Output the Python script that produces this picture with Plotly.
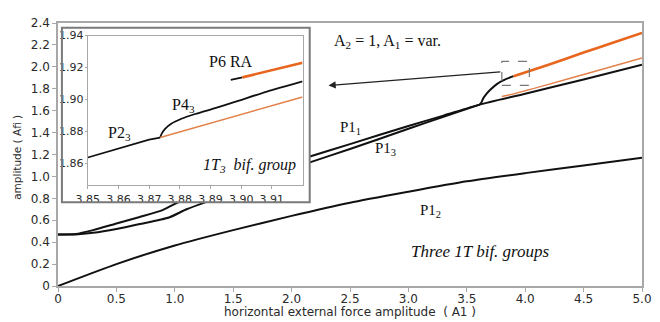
import plotly.graph_objects as go

# ---------------- main chart data (A1 vs amplitude) ----------------
p1_1_x = [0, 0.15, 0.3, 0.5, 0.7, 0.9, 1.06, 1.3, 1.6, 1.9, 2.15, 2.5, 3.0, 3.3, 3.61, 4.0, 4.5, 5.0]
p1_1_y = [0.47, 0.475, 0.51, 0.57, 0.63, 0.695, 0.78, 0.87, 0.99, 1.09, 1.18, 1.295, 1.46, 1.555, 1.655, 1.755, 1.885, 2.02]

p1_3_x = [0, 0.15, 0.3, 0.5, 0.7, 0.95, 1.1, 1.3, 1.6, 1.9, 2.15, 2.5, 3.0, 3.3, 3.61]
p1_3_y = [0.47, 0.47, 0.485, 0.52, 0.565, 0.625, 0.70, 0.78, 0.91, 1.03, 1.126, 1.25, 1.435, 1.545, 1.655]

p1_2_x = [0, 0.5, 1.0, 1.5, 2.0, 2.5, 3.0, 3.5, 4.0, 4.5, 5.0]
p1_2_y = [0, 0.20, 0.37, 0.51, 0.64, 0.76, 0.86, 0.955, 1.03, 1.10, 1.17]

branch_x = [3.61, 3.625, 3.64, 3.67, 3.71, 3.76, 3.83, 3.90]
branch_y = [1.655, 1.675, 1.71, 1.755, 1.80, 1.845, 1.885, 1.915]

p6_main_x = [3.90, 4.2, 4.5, 4.75, 5.0]
p6_main_y = [1.915, 2.02, 2.13, 2.22, 2.31]

unst_main_x = [3.80, 3.85, 4.2, 4.6, 5.0]
unst_main_y = [1.73, 1.74, 1.84, 1.96, 2.08]

main_xticks = [0, 0.5, 1.0, 1.5, 2.0, 2.5, 3.0, 3.5, 4.0, 4.5, 5.0]
main_xlabels = ["0", "0.5", "1.0", "1.5", "2.0", "2.5", "3.0", "3.5", "4.0", "4.5", "5.0"]
main_yticks = [0, 0.2, 0.4, 0.6, 0.8, 1.0, 1.2, 1.4, 1.6, 1.8, 2.0, 2.2, 2.4]
main_ylabels = ["0", "0.2", "0.4", "0.6", "0.8", "1.0", "1.2", "1.4", "1.6", "1.8", "2.0", "2.2", "2.4"]

# ---------------- inset data ----------------
p2_3_x = [3.85, 3.86, 3.87, 3.8736]
p2_3_y = [1.8635, 1.869, 1.8747, 1.876]

p4_3_x = [3.8736, 3.8741, 3.8752, 3.8772, 3.8805, 3.885, 3.8915, 3.8977, 3.9084, 3.92]
p4_3_y = [1.876, 1.8785, 1.8815, 1.8847, 1.8878, 1.8908, 1.8945, 1.8982, 1.9049, 1.9113]

unst_in_x = [3.8736, 3.92]
unst_in_y = [1.876, 1.9015]

p6_black_x = [3.8966, 3.9004]
p6_black_y = [1.9122, 1.9138]
p6_orange_x = [3.9004, 3.92]
p6_orange_y = [1.9138, 1.923]

in_xticks = [3.85, 3.86, 3.87, 3.88, 3.89, 3.90, 3.91]
in_xlabels = ["3.85", "3.86", "3.87", "3.88", "3.89", "3.90", "3.91"]
in_yticks = [1.86, 1.88, 1.90, 1.92, 1.94]
in_ylabels = ["1.86", "1.88", "1.90", "1.92", "1.94"]

BLACK = "#111111"
ORANGE = "#e8651e"
ORANGE_THIN = "#e2814a"
AXIS = "#a8a8a8"
TXT = "#2a2a2a"
SERIF = "Liberation Serif, Times New Roman, serif"
SANS = "DejaVu Sans, Verdana, sans-serif"

fig = go.Figure()

def line(x, y, color, width, xa="x", ya="y", shape="spline"):
    fig.add_trace(go.Scatter(x=x, y=y, mode="lines", xaxis=xa, yaxis=ya,
                             line=dict(color=color, width=width, shape=shape,
                                       smoothing=0.6),
                             hoverinfo="skip", showlegend=False))

# main traces
line(p1_2_x, p1_2_y, BLACK, 2)
line(p1_3_x, p1_3_y, BLACK, 2)
line(p1_1_x, p1_1_y, BLACK, 2)
line(unst_main_x, unst_main_y, ORANGE_THIN, 1.5)
line(branch_x, branch_y, BLACK, 2)
line(p6_main_x, p6_main_y, ORANGE, 2.6)

# dummy trace for the inset background subplot (x2/y2)
fig.add_trace(go.Scatter(x=[0], y=[0], mode="markers", xaxis="x2", yaxis="y2",
                         marker=dict(opacity=0), hoverinfo="skip", showlegend=False))

# inset traces
line(p2_3_x, p2_3_y, BLACK, 1.8, "x3", "y3", "linear")
line(p4_3_x, p4_3_y, BLACK, 1.8, "x3", "y3")
line(unst_in_x, unst_in_y, ORANGE_THIN, 1.5, "x3", "y3", "linear")
line(p6_black_x, p6_black_y, BLACK, 1.8, "x3", "y3", "linear")
line(p6_orange_x, p6_orange_y, ORANGE, 2.6, "x3", "y3", "linear")

tickfont = dict(family=SANS, size=12, color=TXT)
in_tickfont = dict(family=SANS, size=11, color=TXT)

fig.update_layout(
    width=652, height=314,
    margin=dict(l=50, r=8, t=8, b=36),
    paper_bgcolor="white", plot_bgcolor="white",
    xaxis=dict(range=[0, 5.0], tickvals=main_xticks, ticktext=main_xlabels,
               showgrid=False, zeroline=False, showline=True, mirror=True,
               linecolor=AXIS, linewidth=1.5, ticks="outside", ticklen=4,
               tickcolor=AXIS, tickfont=tickfont, domain=[0, 1],
               ticklabelstandoff=-3),
    yaxis=dict(range=[0, 2.4], tickvals=main_yticks, ticktext=main_ylabels,
               showgrid=False, zeroline=False, showline=True, mirror=True,
               linecolor=AXIS, linewidth=1.5, ticks="outside", ticklen=4,
               tickcolor=AXIS, tickfont=tickfont, domain=[0, 1]),
    # inset background box
    xaxis2=dict(domain=[0.0067, 0.431], range=[0, 1], visible=False, anchor="y2",
                fixedrange=True),
    yaxis2=dict(domain=[0.3185, 0.9815], range=[0, 1], visible=False, anchor="x2",
                fixedrange=True),
    # inset plot
    xaxis3=dict(domain=[0.051, 0.4187], range=[3.85, 3.92], anchor="y3",
                tickvals=in_xticks, ticktext=in_xlabels,
                showgrid=False, zeroline=False, showline=True, mirror=True,
                linecolor=AXIS, linewidth=1.2, ticks="outside", ticklen=3,
                tickcolor=AXIS, tickfont=in_tickfont),
    yaxis3=dict(domain=[0.3826, 0.952], range=[1.846, 1.94], anchor="x3",
                tickvals=in_yticks, ticktext=in_ylabels,
                showgrid=False, zeroline=False, showline=True, mirror=True,
                linecolor=AXIS, linewidth=1.2, ticks="outside", ticklen=2,
                tickcolor=AXIS, tickfont=in_tickfont, ticklabelstandoff=-1),
)

# inset outer frame & zoom box
fig.add_shape(type="rect", xref="paper", yref="paper", x0=0.0067, x1=0.431,
              y0=0.3185, y1=0.9815, line=dict(color="#7a7a7a", width=2),
              fillcolor="rgba(0,0,0,0)", layer="above")
fig.add_shape(type="rect", xref="x", yref="y", x0=3.80, x1=4.036, y0=1.83, y1=2.05,
              line=dict(color="#777777", width=1.2, dash="dash"))

ann = []
# arrow from zoom box to inset
ann.append(dict(x=2.316, y=1.83, xref="x", yref="y", ax=3.80, ay=1.955,
                axref="x", ayref="y", text="", showarrow=True, arrowhead=2,
                arrowsize=1.2, arrowwidth=1.2, arrowcolor="#222222"))

def label(text, x, y, size=15, xref="x", yref="y", italic=False, xanchor="center"):
    if italic:
        text = "<i>" + text + "</i>"
    ann.append(dict(text=text, x=x, y=y, xref=xref, yref=yref, showarrow=False,
                    xanchor=xanchor, yanchor="middle",
                    font=dict(family=SERIF, size=size, color=BLACK)))

label("A<sub>2</sub> = 1, A<sub>1</sub> = var.", 2.35, 2.23, size=16, xanchor="left")
label("P1<sub>1</sub>", 2.50, 1.44)
label("P1<sub>3</sub>", 2.80, 1.25)
label("P1<sub>2</sub>", 3.19, 0.68)
label("Three 1T bif. groups", 3.62, 0.317, size=17, italic=True)

label("P6 RA", 3.8890, 1.9237, size=16, xref="x3", yref="y3", xanchor="left")
label("P4<sub>3</sub>", 3.8812, 1.8962, size=16, xref="x3", yref="y3")
label("P2<sub>3</sub>", 3.8604, 1.8785, size=16, xref="x3", yref="y3")
label("1T<sub>3</sub>  bif. group", 3.9185, 1.8585, size=16, xref="x3", yref="y3",
      italic=True, xanchor="right")

# axis titles
ann.append(dict(text="horizontal external force amplitude  ( A1 )", x=0.5, y=-0.1,
                xref="paper", yref="paper", showarrow=False, xanchor="center",
                yanchor="middle", font=dict(family=SANS, size=12, color=TXT)))
ann.append(dict(text="amplitude ( Afi )", x=-0.0707, y=0.49, xref="paper", yref="paper",
                showarrow=False, textangle=-90, xanchor="center", yanchor="middle",
                font=dict(family=SANS, size=10.5, color=TXT)))

fig.update_layout(annotations=ann)
fig.write_html("out.html")
